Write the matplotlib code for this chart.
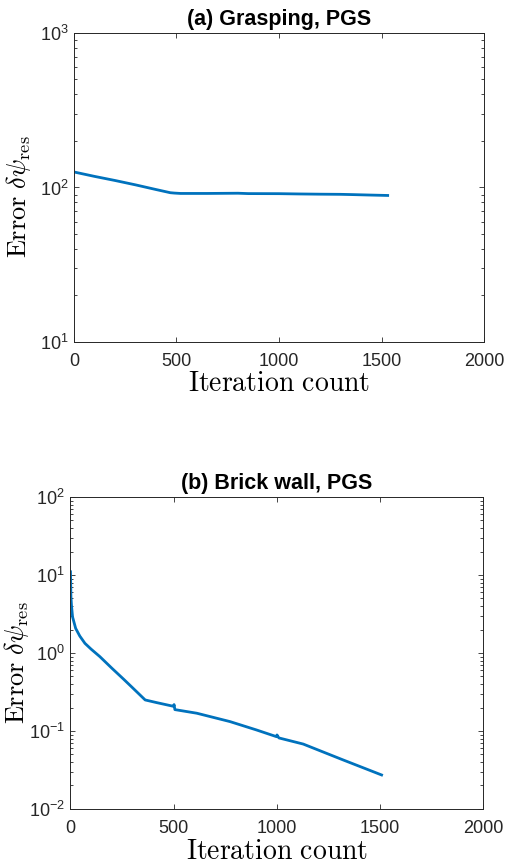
import matplotlib
matplotlib.use('Agg')
import matplotlib.pyplot as plt
from matplotlib.ticker import LogLocator, FixedLocator, FuncFormatter, NullFormatter
import numpy as np

# (a) Grasping, PGS
iters_a = [0, 100, 200, 300, 400, 470, 490, 520, 650, 800, 850, 1000, 1100, 1200, 1300, 1350, 1450, 1530]
err_a = [126, 118, 111, 104, 97, 92.5, 92, 91.5, 91.5, 91.8, 91.3, 91.2, 90.8, 90.5, 90.3, 90.0, 89.3, 88.8]

# (b) Brick wall, PGS
iters_b = [0, 2, 5, 10, 25, 45, 70, 100, 142, 200, 258, 300, 362, 418, 500, 502, 506,
           612, 773, 902, 999, 1001, 1010, 1128, 1322, 1508]
err_b = [11, 5.3, 4.0, 2.9, 2.07, 1.65, 1.33, 1.12, 0.9, 0.64, 0.46, 0.36, 0.25, 0.231, 0.207, 0.218, 0.188,
         0.169, 0.132, 0.103, 0.0845, 0.089, 0.0815, 0.068, 0.0425, 0.0273]

titles = ['(a) Grasping, PGS', '(b) Brick wall, PGS']
ylims = [(10, 1000), (0.01, 100)]
xticks = [0, 500, 1000, 1500, 2000]

LINE_COLOR = '#0072BD'
AXIS_COLOR = '#262626'

plt.rcParams['font.family'] = ['Liberation Sans', 'DejaVu Sans']
plt.rcParams['mathtext.fontset'] = 'custom'
plt.rcParams['mathtext.rm'] = 'Liberation Sans'
plt.rcParams['mathtext.it'] = 'Liberation Sans:italic'
plt.rcParams['mathtext.bf'] = 'Liberation Sans:bold'


def log_label(v, pos):
    e = int(np.round(np.log10(v)))
    return r'$\mathregular{10^{%d}}$' % e


def style_axes(ax, title, ylim, ylab_x, xlab_y):
    ax.set_yscale('log')
    ax.set_xlim(0, 2000)
    ax.set_ylim(*ylim)
    ax.xaxis.set_major_locator(FixedLocator(xticks))
    ax.set_xticklabels([str(t) for t in xticks])
    ax.yaxis.set_major_locator(LogLocator(base=10, numticks=10))
    ax.yaxis.set_minor_locator(LogLocator(base=10, subs=np.arange(2, 10), numticks=10))
    ax.yaxis.set_major_formatter(FuncFormatter(log_label))
    ax.yaxis.set_minor_formatter(NullFormatter())
    ax.tick_params(which='both', direction='in', top=True, right=True,
                   colors=AXIS_COLOR, width=0.6)
    ax.tick_params(which='major', length=3.5, labelsize=13, pad=4)
    ax.tick_params(which='minor', length=2)
    ax.tick_params(axis='x', which='major', pad=8)
    for s in ax.spines.values():
        s.set_color(AXIS_COLOR)
        s.set_linewidth(0.7)
    ax.set_title(title, fontsize=15.5, fontweight='bold', pad=6)
    ax.set_xlabel(r'$\mathrm{Iteration\ count}$', fontsize=20, math_fontfamily='cm')
    ax.set_ylabel(r'$\mathrm{Error}\ \delta\psi_{\mathrm{res}}$', fontsize=19, math_fontfamily='cm')
    ax.yaxis.set_label_coords(ylab_x, 0.47)
    ax.xaxis.set_label_coords(0.5, xlab_y)


fig = plt.figure(figsize=(5.05, 8.68), dpi=100)
ax1 = fig.add_axes([0.1465, 0.606, 0.812, 0.356])
ax2 = fig.add_axes([0.1396, 0.068, 0.817, 0.3594])

ax1.plot(iters_a, err_a, color=LINE_COLOR, linewidth=2)
style_axes(ax1, titles[0], ylims[0], -0.10, -0.095)

ax2.plot(iters_b, err_b, color=LINE_COLOR, linewidth=2)
style_axes(ax2, titles[1], ylims[1], -0.096, -0.095)

fig.savefig('out.png', dpi=100)
